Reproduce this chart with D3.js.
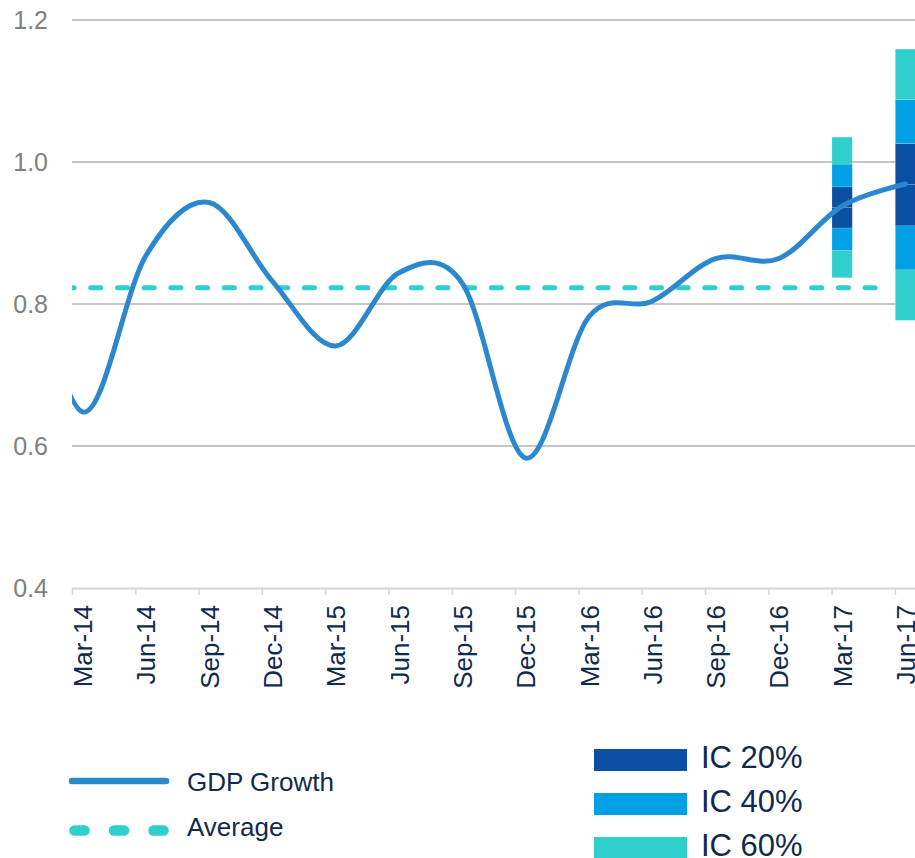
<!DOCTYPE html>
<html>
<head>
<meta charset="utf-8">
<script src="https://cdn.jsdelivr.net/npm/d3@7"></script>
<style>
  body { margin: 0; background: #fff; }
  svg { display: block; font-family: "Liberation Sans", Arial, sans-serif; }
</style>
</head>
<body>
<div id="chart"></div>
<script>
// chart data
var quarters = ["Dec-13", "Mar-14", "Jun-14", "Sep-14", "Dec-14", "Mar-15", "Jun-15", "Sep-15",
                "Dec-15", "Mar-16", "Jun-16", "Sep-16", "Dec-16", "Mar-17", "Jun-17"];
var gdpGrowth = [0.92, 0.648, 0.868, 0.943, 0.832, 0.741, 0.844, 0.829,
                 0.583, 0.782, 0.804, 0.864, 0.864, 0.938, 0.969];

var tickLabels = ["Mar-14", "Jun-14", "Sep-14", "Dec-14", "Mar-15", "Jun-15", "Sep-15",
                  "Dec-15", "Mar-16", "Jun-16", "Sep-16", "Dec-16", "Mar-17", "Jun-17"];
var yTicks = [0.4, 0.6, 0.8, 1.0, 1.2];

var averageValue = 0.823;
var averageEnd = "May-17";

// forecast fan: centre and half widths per interval
var fanDates = ["Mar-17", "Jun-17"];
var fanCentre = [0.936, 0.968];
var ic20 = [0.029, 0.058];
var ic40 = [0.061, 0.120];
var ic60 = [0.099, 0.191];

var legendLines = ["GDP Growth", "Average"];
var legendBands = ["IC 20%", "IC 40%", "IC 60%"];

var colors = {
    line: "#2b88cf",
    average: "#2ecfcc",
    ic20: "#0a4fa3",
    ic40: "#00a0e4",
    ic60: "#2ecfcc",
    text: "#102a4e",
    grid: "#c6c6c6"
};

// svg dimensions
var width = 915;
var height = 858;
var plotLeft = 72;
var plotRight = 916;
var plotTop = 20;
var plotBottom = 588;

var svg = d3.select("#chart")
    .append("svg")
    .attr("width", width)
    .attr("height", height);

// month index from "Mar-14" style labels (0 = Mar-14)
var parseMonth = d3.timeParse("%b-%y");
function monthIndex(label) {
    var d = parseMonth(label);
    return (d.getFullYear() - 2014) * 12 + d.getMonth() - 2;
}

var xScale = d3.scaleLinear()
    .domain([0, 40])
    .range([plotLeft, plotRight]);
var slot = xScale(1) - xScale(0);

var yScale = d3.scaleLinear()
    .domain([0.4, 1.2])
    .range([plotBottom, plotTop]);

// gridlines
svg.append("g")
    .selectAll("line")
    .data(yTicks.slice(1))
    .enter()
    .append("line")
    .attr("x1", plotLeft)
    .attr("x2", plotRight)
    .attr("y1", function(d) { return yScale(d); })
    .attr("y2", function(d) { return yScale(d); })
    .attr("stroke", colors.grid)
    .attr("stroke-width", 2);

// y labels
var yAxis = d3.axisLeft(yScale)
    .tickValues(yTicks)
    .tickSize(0)
    .tickPadding(24)
    .tickFormat(d3.format(".1f"));

var yG = svg.append("g")
    .attr("transform", `translate(${plotLeft},0)`)
    .call(yAxis);
yG.select(".domain").remove();
yG.selectAll("text")
    .attr("font-size", 25)
    .attr("font-family", "Liberation Sans, Arial, sans-serif")
    .attr("fill", "#808080");

// x axis, ticks at start of each quarter month
var xAxis = d3.axisBottom(xScale)
    .tickValues(tickLabels.map(monthIndex))
    .tickSize(7)
    .tickSizeOuter(0)
    .tickFormat(function(d, i) { return tickLabels[i]; });

var xG = svg.append("g")
    .attr("transform", `translate(0,${plotBottom})`)
    .call(xAxis);
xG.select(".domain")
    .attr("stroke", "#d6d6d6")
    .attr("stroke-width", 2);
xG.selectAll(".tick line")
    .attr("stroke", "#d6d6d6")
    .attr("stroke-width", 1.5);
xG.selectAll(".tick text")
    .attr("font-size", 26)
    .attr("font-family", "Liberation Sans, Arial, sans-serif")
    .attr("fill", colors.text)
    .attr("text-anchor", "end")
    .attr("y", 0)
    .attr("dy", "0.35em")
    .attr("transform", `translate(${slot / 2},17) rotate(-90)`);

// clip for plot area
svg.append("clipPath")
    .attr("id", "plotClip")
    .append("rect")
    .attr("x", plotLeft)
    .attr("y", 0)
    .attr("width", plotRight - plotLeft)
    .attr("height", plotBottom);

// fan bars (stacked around centre)
var bands = [
    { lo: null, hi: ic20, color: colors.ic20 },
    { lo: ic20, hi: ic40, color: colors.ic40 },
    { lo: ic40, hi: ic60, color: colors.ic60 }
];
var fanG = svg.append("g").attr("clip-path", "url(#plotClip)");
fanDates.forEach(function(date, i) {
    var x0 = xScale(monthIndex(date)) + 0.4;
    var c = fanCentre[i];
    bands.forEach(function(b) {
        var inner = b.lo ? b.lo[i] : 0;
        var outer = b.hi[i];
        [[c + inner, c + outer], [c - outer, c - inner]].forEach(function(seg) {
            fanG.append("rect")
                .attr("x", x0)
                .attr("width", slot - 0.8)
                .attr("y", yScale(seg[1]))
                .attr("height", yScale(seg[0]) - yScale(seg[1]))
                .attr("fill", b.color)
                .attr("stroke", "rgba(255,255,255,0.25)")
                .attr("stroke-width", 0.6);
        });
    });
});

// average dashed line
svg.append("line")
    .attr("clip-path", "url(#plotClip)")
    .attr("x1", plotLeft)
    .attr("x2", xScale(monthIndex(averageEnd) + 0.5))
    .attr("y1", yScale(averageValue))
    .attr("y2", yScale(averageValue))
    .attr("stroke", colors.average)
    .attr("stroke-width", 5)
    .attr("stroke-linecap", "round")
    .attr("stroke-dasharray", "10,16.7")
    .attr("stroke-dashoffset", 7.9);

// GDP growth line, smoothed
var line = d3.line()
    .x(function(d, i) { return xScale(monthIndex(quarters[i]) + 0.5); })
    .y(function(d) { return yScale(d); })
    .curve(d3.curveCardinal.tension(0));

svg.append("path")
    .attr("clip-path", "url(#plotClip)")
    .datum(gdpGrowth)
    .attr("d", line)
    .attr("fill", "none")
    .attr("stroke", colors.line)
    .attr("stroke-width", 5)
    .attr("stroke-linecap", "round")
    .attr("stroke-linejoin", "round");

// legend: lines
var legL = svg.append("g");
legL.append("line")
    .attr("x1", 72).attr("x2", 166)
    .attr("y1", 781).attr("y2", 781)
    .attr("stroke", colors.line)
    .attr("stroke-width", 6.5)
    .attr("stroke-linecap", "round");
legL.append("line")
    .attr("x1", 74.5).attr("x2", 164)
    .attr("y1", 830.5).attr("y2", 830.5)
    .attr("stroke", colors.average)
    .attr("stroke-width", 10.5)
    .attr("stroke-linecap", "round")
    .attr("stroke-dasharray", "10,29.5");
legL.selectAll("text")
    .data(legendLines)
    .enter()
    .append("text")
    .attr("x", 187)
    .attr("y", function(d, i) { return 782 + i * 45; })
    .attr("dy", "0.35em")
    .attr("font-size", 26)
    .attr("fill", colors.text)
    .text(function(d) { return d; });

// legend: interval bands
var bandColors = [colors.ic20, colors.ic40, colors.ic60];
var legB = svg.append("g");
legB.selectAll("rect")
    .data(legendBands)
    .enter()
    .append("rect")
    .attr("x", 594)
    .attr("y", function(d, i) { return 749 + i * 44; })
    .attr("width", 93)
    .attr("height", 22)
    .attr("fill", function(d, i) { return bandColors[i]; });
legB.selectAll("text")
    .data(legendBands)
    .enter()
    .append("text")
    .attr("x", 701)
    .attr("y", function(d, i) { return 757 + i * 44; })
    .attr("dy", "0.36em")
    .attr("font-size", 31)
    .attr("fill", colors.text)
    .text(function(d) { return d; });
</script>
</body>
</html>
